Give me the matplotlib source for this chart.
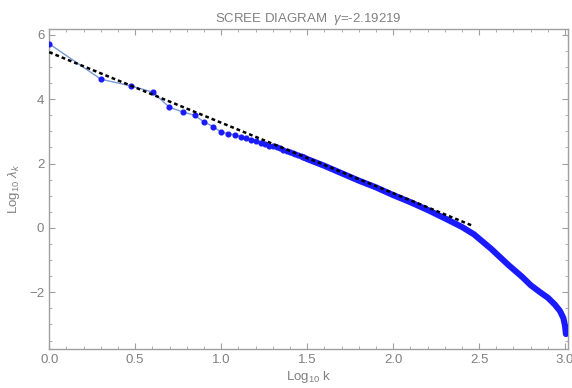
import numpy as np
import matplotlib
matplotlib.use("Agg")
import matplotlib.pyplot as plt
from matplotlib.ticker import MultipleLocator

plt.rcParams['font.family'] = ['Liberation Sans', 'DejaVu Sans']
plt.rcParams['mathtext.fontset'] = 'custom'
plt.rcParams['mathtext.rm'] = 'Liberation Sans'
plt.rcParams['mathtext.it'] = 'Liberation Sans:italic'

# first eigenvalues, k = 1..30
log_k = np.log10(np.arange(1, 31))
log_lam = [5.72, 4.62, 4.41, 4.22, 3.75, 3.60, 3.50, 3.28, 3.15, 2.97,
           2.93, 2.89, 2.84, 2.79, 2.74, 2.69, 2.64, 2.60, 2.56, 2.53,
           2.50, 2.47, 2.43, 2.40, 2.36, 2.33, 2.30, 2.26, 2.23, 2.20]

# dense tail of the spectrum (points overlap into a band)
tail_x = [1.477, 1.5, 1.6, 1.7, 1.8, 1.9, 2.0, 2.1, 2.2, 2.3, 2.4, 2.47,
          2.57, 2.67, 2.75, 2.8, 2.86, 2.9, 2.94, 2.97, 2.99, 3.0, 3.005]
tail_y = [2.20, 2.14, 1.93, 1.70, 1.47, 1.26, 1.02, 0.80, 0.56, 0.30, 0.03, -0.20,
          -0.65, -1.15, -1.52, -1.78, -2.02, -2.17, -2.38, -2.58, -2.80, -3.05, -3.30]

# power-law fit, gamma = -2.19219
gamma = -2.19219
fit_x = [0.0, 2.465]
fit_y = [5.46, 0.06]

fig = plt.figure(figsize=(5.72, 3.88), dpi=100)
ax = fig.add_axes([0.086, 0.100, 0.907, 0.826])

ax.plot(log_k, log_lam, '-', color='#7a9ad6', lw=1.0, zorder=2)
ax.plot(log_k, log_lam, 'o', color='#1a1aff', ms=3.4, mec='#1a1aff', zorder=3)
ax.plot(tail_x, tail_y, '-', color='#1a1aff', lw=4.4, solid_capstyle='round', zorder=3)
ax.plot(fit_x, fit_y, color='black', lw=1.8, linestyle=(0, (1.5, 1.2)), zorder=4)

ax.set_xlim(0, 3.017)
ax.set_ylim(-3.77, 6.19)

gray = '#a0a0a0'
txt = '#808080'
for s in ax.spines.values():
    s.set_color(gray)
    s.set_linewidth(1.0)
ax.xaxis.set_major_locator(MultipleLocator(0.5))
ax.xaxis.set_minor_locator(MultipleLocator(0.1))
ax.yaxis.set_major_locator(MultipleLocator(2))
ax.yaxis.set_minor_locator(MultipleLocator(0.5))
ax.xaxis.set_major_formatter(matplotlib.ticker.FormatStrFormatter('%.1f'))
ax.tick_params(which='both', direction='in', top=True, right=True, color=gray,
               labelcolor=txt, labelsize=9.5)
ax.tick_params(which='major', length=4, width=0.8)
ax.tick_params(which='minor', length=2.2, width=0.6)

ax.set_title(r'SCREE DIAGRAM  $\mathit{\gamma}$=-2.19219', color=txt, fontsize=9.5, pad=5)
ax.set_xlabel(r'Log$_{10}$ k', color=txt, fontsize=9.5, labelpad=2)
ax.set_ylabel(r'Log$_{10}$ $\mathit{\lambda_k}$', color=txt, fontsize=9.5, labelpad=5)

fig.savefig('out.png', dpi=100)
